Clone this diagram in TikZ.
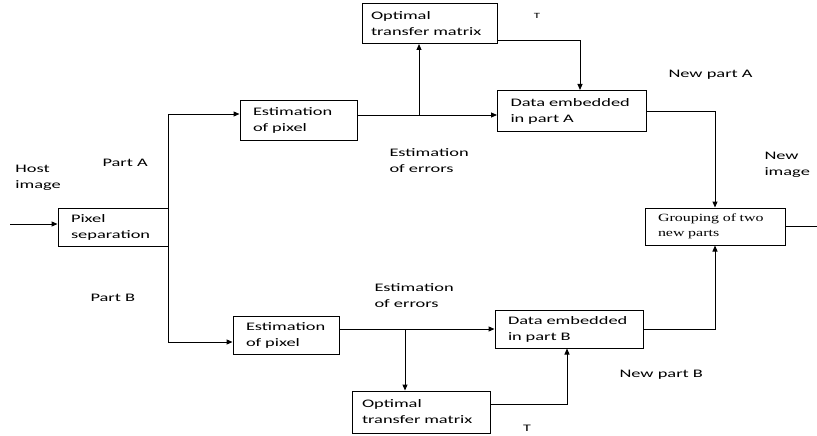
\documentclass[tikz,border=0pt]{standalone}
\usepackage{fontspec}
\setmainfont{Carlito}[FakeStretch=1.6]
\newfontfamily\grpfont{Liberation Serif}[FakeStretch=1.45]
\usetikzlibrary{arrows.meta}

\tikzset{
  blk/.style={draw, line width=1pt, inner xsep=13pt, inner ysep=0pt, align=left,
    font=\fontsize{11.5}{16}\selectfont},
  lbl/.style={align=left, anchor=west, inner sep=0pt, font=\fontsize{11.5}{16}\selectfont},
}

\begin{document}
\begin{tikzpicture}[x=1pt, y=-1pt, >={Triangle[length=6pt,width=5pt]}, line width=1pt]
  \useasboundingbox (0,0) rectangle (817,436);
  % Nodes
  \node[blk, text width=84pt, minimum height=38pt] (sep) at (113,227) {Pixel\\separation};
  \node[blk, text width=91pt, minimum height=40pt] (estA) at (298.5,120) {Estimation\\of pixel};
  \node[blk, text width=117pt, inner xsep=9pt, minimum height=40pt] (optA) at (429.5,23.5) {Optimal\\transfer matrix};
  \node[blk, text width=123pt, minimum height=41pt] (dataA) at (572,111) {Data embedded\\in part A};
  \node[blk, text width=114pt, minimum height=37pt, font=\grpfont\fontsize{11}{15}\selectfont] (group) at (715,226.5) {Grouping of two\\new parts};
  \node[blk, text width=80pt, minimum height=38pt] (estB) at (286,335) {Estimation\\of pixel};
  \node[blk, text width=122pt, minimum height=38pt] (dataB) at (569,329) {Data embedded\\in part B};
  \node[blk, text width=118pt, inner xsep=10pt, minimum height=42pt] (optB) at (421,412) {Optimal\\transfer matrix};

  \coordinate (in) at (10,224);
  \coordinate (out) at (817,226.5);
  \coordinate (upA) at (168,114);
  \coordinate (dnB) at (168,342);
  \coordinate (brA) at (419,115);
  \coordinate (brB) at (405,329);

  % Labels
  \node[lbl] (host) at (15,178) {Host\\image};
  \node[lbl] (partA) at (102,163) {Part A};
  \node[lbl] (partB) at (90,298) {Part B};
  \node[lbl] (errA) at (389,161) {Estimation\\of errors};
  \node[lbl] (errB) at (374,296) {Estimation\\of errors};
  \node[lbl] (newA) at (668,75) {New part A};
  \node[lbl] (newB) at (619,375) {New part B};
  \node[lbl] (newimg) at (764,165) {New\\image};
  \node[inner sep=0pt, font=\fontsize{8}{9}\selectfont] (tA) at (537,16) {T};
  \node[inner sep=0pt, font=\fontsize{10}{12}\selectfont] (tB) at (527,428) {T};

  % Arrows
  \draw[->] (in) -- (in -| sep.west);
  \draw (upA) -- (dnB);
  \draw[->] (upA) -- (upA -| estA.west);
  \draw[->] (dnB) -- (dnB -| estB.west);
  \draw[->] ([yshift=5pt]estA.east) -- ([yshift=5pt]estA.east -| dataA.west);
  \draw[->] (brA) -- (brA |- optA.south);
  \draw[->] ([yshift=-17pt]optA.east) -| ([xshift=8pt]dataA.north);
  \draw[->] (dataA.east) -| (group.north);
  \draw[->] ([yshift=6pt]estB.east) -- ([yshift=6pt]estB.east -| dataB.west);
  \draw[->] (brB) -- (brB |- optB.north);
  \draw[->] ([yshift=8pt]optB.east) -| ([xshift=-2pt]dataB.south);
  \draw[->] (dataB.east) -| (group.south);
  \draw (group.east) -- (out);
\end{tikzpicture}
\end{document}
